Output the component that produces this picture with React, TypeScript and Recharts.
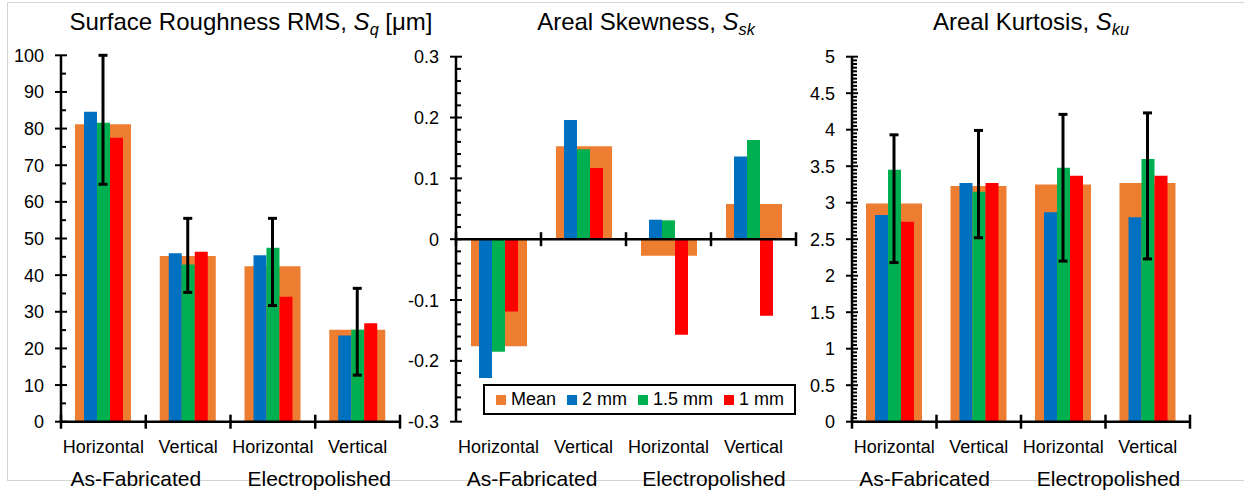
import React from 'react'
import { BarChart, Bar, XAxis, YAxis, ErrorBar, ReferenceLine } from 'recharts'

const categories = ['Horizontal', 'Vertical', 'Horizontal', 'Vertical']
const groups = ['As-Fabricated', 'Electropolished']
const seriesNames = ['Mean', '2 mm', '1.5 mm', '1 mm']
const seriesColors = ['#ED7D31', '#0070C0', '#00B050', '#FF0000']

// Surface roughness RMS, Sq [µm]
const sqMean = [81.2, 45.2, 42.4, 25.1]
const sq2mm = [84.6, 46.0, 45.4, 23.5]
const sq15mm = [81.6, 42.9, 47.5, 25.1]
const sq1mm = [77.5, 46.4, 34.1, 26.9]
const sqErrLow = [64.8, 35.3, 31.7, 12.7]
const sqErrHigh = [100, 55.5, 55.5, 36.4]
const sqTicks = [0, 10, 20, 30, 40, 50, 60, 70, 80, 90, 100]

// Areal skewness, Ssk
const sskMean = [-0.176, 0.153, -0.027, 0.058]
const ssk2mm = [-0.228, 0.196, 0.032, 0.136]
const ssk15mm = [-0.185, 0.148, 0.031, 0.163]
const ssk1mm = [-0.119, 0.117, -0.157, -0.126]
const sskTicks = [-0.3, -0.2, -0.1, 0, 0.1, 0.2, 0.3]

// Areal kurtosis, Sku
const skuMean = [2.99, 3.23, 3.25, 3.27]
const sku2mm = [2.83, 3.27, 2.87, 2.8]
const sku15mm = [3.45, 3.15, 3.48, 3.6]
const sku1mm = [2.74, 3.27, 3.37, 3.37]
const skuErrLow = [2.18, 2.52, 2.2, 2.23]
const skuErrHigh = [3.93, 3.99, 4.21, 4.23]
const skuTicks = [0, 0.5, 1, 1.5, 2, 2.5, 3, 3.5, 4, 4.5, 5]

const FONT = '"Liberation Sans", Arial, sans-serif'
const CHART_H = 492
const AXIS_Y = 421.7

function buildRows(mean: number[], a: number[], b: number[], c: number[], low?: number[], high?: number[]) {
  return categories.map((cat, i) => ({
    cat,
    mean: mean[i],
    s2: a[i],
    s15: b[i],
    s1: c[i],
    err: low && high ? [mean[i] - low[i], high[i] - mean[i]] : undefined,
  }))
}

// minor tick marks between the labelled ones
function withMinor(major: number[], step: number) {
  const out: number[] = []
  for (let i = 0; i < major.length; i++) {
    out.push(major[i])
    if (i < major.length - 1) {
      const n = Math.round((major[i + 1] - major[i]) / step)
      for (let k = 1; k < n; k++) out.push(major[i] + k * step)
    }
  }
  return out
}

interface PanelProps {
  rows: any[]
  left: number
  width: number
  axisWidth: number
  marginRight: number
  top: number
  majorTicks: number[]
  minorStep: number
  hasError: boolean
  zeroAxis: boolean
  groupShift: number[]
}

function Panel({ rows, left, width, axisWidth, marginRight, top, majorTicks, minorStep, hasError, zeroAxis, groupShift }: PanelProps) {
  const xAxisH = CHART_H - AXIS_Y
  const plotW = width - axisWidth - marginRight
  const plotH = CHART_H - top - xAxisH
  const band = plotW / categories.length
  const zeroOffset = zeroAxis ? -plotH / 2 : 0
  const domain = [majorTicks[0], majorTicks[majorTicks.length - 1]]

  const yTick = (props: any) => {
    const { x, y, payload } = props
    const v = payload.value
    const major = majorTicks.find((m) => Math.abs(m - v) < 1e-9)
    if (major === undefined) {
      return <line x1={x} x2={x + 5} y1={y} y2={y} stroke="#000" strokeWidth={2} />
    }
    return (
      <g>
        <line x1={x - 6} x2={x + 6} y1={y} y2={y} stroke="#000" strokeWidth={2} />
        <text x={x - 17} y={y} dy={6.5} textAnchor="end" fontSize={18} fill="#000">
          {String(major)}
        </text>
      </g>
    )
  }

  const xTick = (props: any) => {
    const { x, y, index, payload } = props
    const ay = y + zeroOffset
    const l = x - band / 2
    const r = x + band / 2
    return (
      <g>
        <line x1={l} x2={l} y1={ay - 7} y2={ay + 7} stroke="#000" strokeWidth={2.5} />
        {index === categories.length - 1 && (
          <line x1={r} x2={r} y1={ay - 7} y2={ay + 7} stroke="#000" strokeWidth={2.5} />
        )}
        <text x={x} y={y + 31} textAnchor="middle" fontSize={18} fill="#000">
          {payload.value}
        </text>
        {index % 2 === 0 && (
          <text x={r + groupShift[index / 2]} y={y + 64} textAnchor="middle" fontSize={21} fill="#000">
            {groups[index / 2]}
          </text>
        )}
      </g>
    )
  }

  return (
    <div style={{ position: 'absolute', left, top: 0 }}>
      <BarChart
        width={width}
        height={CHART_H}
        data={rows}
        margin={{ top, right: marginRight, bottom: 0, left: 0 }}
        barGap={0}
      >
        <XAxis
          dataKey="cat"
          height={xAxisH}
          tickSize={0}
          tickMargin={0}
          interval={0}
          tickLine={false}
          axisLine={zeroAxis ? false : { stroke: '#000', strokeWidth: 2.5 }}
          tick={xTick}
        />
        <XAxis xAxisId="m" dataKey="cat" hide />
        <XAxis xAxisId="e" dataKey="cat" hide />
        <YAxis
          type="number"
          domain={domain}
          ticks={withMinor(majorTicks, minorStep)}
          interval={0}
          width={axisWidth}
          tickSize={0}
          tickMargin={0}
          tickLine={false}
          axisLine={{ stroke: '#000', strokeWidth: 2.5 }}
          tick={yTick}
        />
        <Bar xAxisId="m" dataKey="mean" name={seriesNames[0]} fill={seriesColors[0]} barSize={56} isAnimationActive={false} />
        <Bar dataKey="s2" name={seriesNames[1]} fill={seriesColors[1]} barSize={13} isAnimationActive={false} />
        <Bar dataKey="s15" name={seriesNames[2]} fill={seriesColors[2]} barSize={13} isAnimationActive={false} />
        <Bar dataKey="s1" name={seriesNames[3]} fill={seriesColors[3]} barSize={13} isAnimationActive={false} />
        {zeroAxis && <ReferenceLine y={0} stroke="#000" strokeWidth={2.5} />}
        {hasError && (
          <Bar xAxisId="e" dataKey="mean" fill="none" barSize={56} legendType="none" isAnimationActive={false}>
            <ErrorBar dataKey="err" width={4.5} stroke="#000" strokeWidth={3} />
          </Bar>
        )}
      </BarChart>
    </div>
  )
}

function Title({ center, main, sub, unit }: { center: number; main: string; sub: string; unit?: string }) {
  return (
    <div
      style={{
        position: 'absolute',
        left: center - 250,
        width: 500,
        top: 10,
        textAlign: 'center',
        fontSize: 24,
        lineHeight: '24px',
        color: '#000',
        whiteSpace: 'nowrap',
      }}
    >
      {main}
      <i>S</i>
      <i style={{ fontSize: '0.68em', position: 'relative', top: '0.3em' }}>{sub}</i>
      {unit}
    </div>
  )
}

function LegendBox() {
  return (
    <div
      style={{
        position: 'absolute',
        left: 483,
        top: 384,
        width: 313,
        height: 31,
        boxSizing: 'border-box',
        border: '2px solid #000',
        background: '#fff',
        display: 'flex',
        alignItems: 'center',
        paddingLeft: 11,
        fontSize: 18,
        color: '#000',
        whiteSpace: 'nowrap',
      }}
    >
      {seriesNames.map((n, i) => (
        <div key={n} style={{ display: 'flex', alignItems: 'center', marginRight: 11, flexShrink: 0 }}>
          <span style={{ width: 10, height: 10, background: seriesColors[i], marginRight: 5, display: 'inline-block' }} />
          <span>{n}</span>
        </div>
      ))}
    </div>
  )
}

export default function App() {
  return (
    <div
      style={{
        position: 'absolute',
        left: 0,
        top: 0,
        width: 1244,
        height: 492,
        overflow: 'hidden',
        background: '#fff',
        fontFamily: FONT,
      }}
    >
      <div
        style={{
          position: 'absolute',
          left: 7,
          top: 2,
          width: 1300,
          height: 477,
          borderTop: '1px solid #d4d4d4',
          borderLeft: '1px solid #d4d4d4',
          borderBottom: '1px solid #d4d4d4',
        }}
      />
      <Panel
        rows={buildRows(sqMean, sq2mm, sq15mm, sq1mm, sqErrLow, sqErrHigh)}
        left={0}
        width={410}
        axisWidth={61}
        marginRight={10}
        top={55.3}
        majorTicks={sqTicks}
        minorStep={5}
        hasError
        zeroAxis={false}
        groupShift={[-10, 4]}
      />
      <Panel
        rows={buildRows(sskMean, ssk2mm, ssk15mm, ssk1mm)}
        left={400}
        width={410}
        axisWidth={56}
        marginRight={14}
        top={56.7}
        majorTicks={sskTicks}
        minorStep={0.02}
        hasError={false}
        zeroAxis
        groupShift={[-9, 3]}
      />
      <Panel
        rows={buildRows(skuMean, sku2mm, sku15mm, sku1mm, skuErrLow, skuErrHigh)}
        left={800}
        width={444}
        axisWidth={52}
        marginRight={54}
        top={56.7}
        majorTicks={skuTicks}
        minorStep={0.05}
        hasError
        zeroAxis={false}
        groupShift={[-12, 3]}
      />
      <Title center={251} main="Surface Roughness RMS, " sub="q" unit=" [μm]" />
      <Title center={646} main="Areal Skewness, " sub="sk" />
      <Title center={1031} main="Areal Kurtosis, " sub="ku" />
      <LegendBox />
    </div>
  )
}
